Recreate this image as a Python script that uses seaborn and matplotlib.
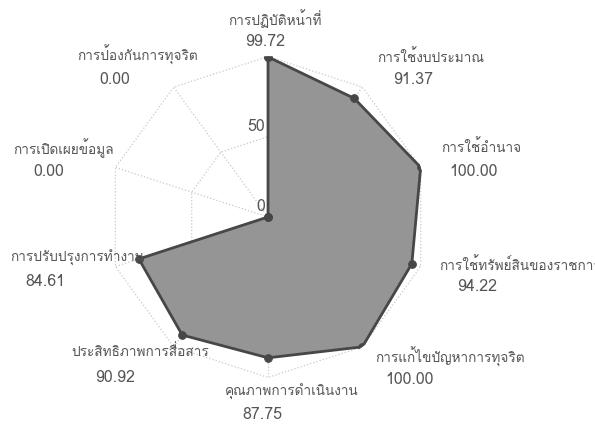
import numpy as np
import matplotlib
matplotlib.use("Agg")
import matplotlib.pyplot as plt
import seaborn as sns

categories = ["การปฏิบัติหน้าที่", "การใช้งบประมาณ", "การใช้อำนาจ",
              "การใช้ทรัพย์สินของราชการ", "การแก้ไขปัญหาการทุจริต",
              "คุณภาพการดำเนินงาน", "ประสิทธิภาพการสื่อสาร",
              "การปรับปรุงการทำงาน", "การเปิดเผยข้อมูล", "การป้องกันการทุจริต"]
scores = [99.72, 91.37, 100.00, 94.22, 100.00, 87.75, 90.92, 84.61, 0.00, 0.00]
r_ticks = [0, 50]
r_max = 100

# label placement (pixel offsets of name / value from the outer ring point)
name_off = [(-40, 38), (15, 30), (21, 20), (19, 2), (13, -10),
            (-43, -15), (-102, -5), (-105, 9), (-102, 19), (-96, 32)]
value_off = [(-23, 14), (31, 7), (29, -5), (36, -20), (23, -33),
             (-26, -38), (-79, -31), (-90, -15), (-82, -5), (-74, 7)]

sns.set_theme(style="white")
# Loma carries the Thai glyphs (Tahoma-like)
plt.rcParams["font.family"] = ["Loma", "DejaVu Sans"]

TEXT = "#555555"
GRID = "#c8c8c8"
EDGE = "#474747"
FILL = "#959595"

fig = plt.figure(figsize=(5.95, 4.24), dpi=100, facecolor="white")
ax = fig.add_axes([0.1807, 0.1097, 0.5395, 0.7571], polar=True)
ax.set_theta_offset(np.pi / 2)
ax.set_theta_direction(-1)
ax.set_ylim(0, r_max)
ax.grid(False)
ax.spines["polar"].set_visible(False)
ax.set_xticks([])
ax.set_yticks([])
ax.set_facecolor("white")

n = len(categories)
theta = np.arange(n) * 2 * np.pi / n
theta_c = np.append(theta, theta[0] + 2 * np.pi)
scores_c = np.append(scores, scores[0])

# spider-web grid
for r in [50, r_max]:
    ax.plot(theta_c, np.full(n + 1, r), color=GRID, lw=0.9, ls=":", zorder=1)
for t in theta:
    ax.plot([t, t], [0, r_max], color=GRID, lw=0.9, ls=":", zorder=1)

ax.fill(theta_c, scores_c, color=FILL, zorder=2)
sns.lineplot(x=theta_c, y=scores_c, sort=False, color=EDGE, lw=2.0,
             marker="o", markersize=5.5, markeredgecolor=EDGE, ax=ax,
             legend=False, zorder=3)
ax.set_xlabel("")
ax.set_ylabel("")

for r in r_ticks:
    ax.annotate(str(r), xy=(0, r), xytext=(-3, 2), textcoords="offset pixels",
                ha="right", va="bottom", fontsize=11.5, color=TEXT, zorder=4)

for t, name, val, no, vo in zip(theta, categories, scores, name_off, value_off):
    ax.annotate(name, xy=(t, r_max), xytext=no, textcoords="offset pixels",
                ha="left", va="center", fontsize=9.8, color=TEXT,
                annotation_clip=False, zorder=4)
    ax.annotate(f"{val:.2f}", xy=(t, r_max), xytext=vo, textcoords="offset pixels",
                ha="left", va="center", fontsize=11.5, color=TEXT,
                annotation_clip=False, zorder=4)

fig.savefig("out.png", dpi=100, facecolor="white")
